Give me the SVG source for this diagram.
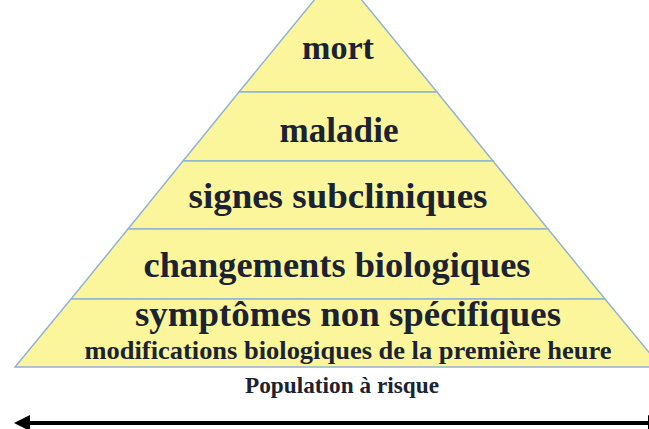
<svg xmlns="http://www.w3.org/2000/svg" width="649" height="429" viewBox="0 0 649 429">
<style>
.band{fill:#FBF69C;stroke:#93B3D6;stroke-width:1.5;}
.t{font-family:"Liberation Serif","Times New Roman",Tinos,serif;font-weight:bold;fill:#1B2333;text-anchor:middle;}
</style>
<defs>
<marker id="ah" markerWidth="4" markerHeight="4" refX="1" refY="2" orient="auto-start-reverse" markerUnits="strokeWidth">
<path d="M0,0 L4,2 L0,4 Z" fill="#000"/>
</marker>
</defs>
<rect width="649" height="429" fill="#fff"/>
<g id="pyramid">
<g id="n-mort"><polygon class="band" points="338,-29 437,92 239,92"/><text class="t" x="338" y="59" font-size="34" textLength="72" lengthAdjust="spacingAndGlyphs">mort</text></g>
<g id="n-maladie"><polygon class="band" points="239,92 437,92 493,161 183,161"/><text class="t" x="339" y="142" font-size="35" textLength="119" lengthAdjust="spacingAndGlyphs">maladie</text></g>
<g id="n-signes"><polygon class="band" points="183,161 493,161 548,229 128,229"/><text class="t" x="338" y="208" font-size="36" textLength="299" lengthAdjust="spacingAndGlyphs">signes subcliniques</text></g>
<g id="n-changements"><polygon class="band" points="128,229 548,229 605,299 71,299"/><text class="t" x="337" y="277" font-size="36" textLength="387" lengthAdjust="spacingAndGlyphs">changements  biologiques</text></g>
<g id="n-symptomes"><polygon class="band" points="71,299 605,299 661,367 15,367"/><text class="t" x="348" y="326" font-size="36" textLength="426" lengthAdjust="spacingAndGlyphs">symptômes  non spécifiques</text><text class="t" x="348" y="359" font-size="26" textLength="527" lengthAdjust="spacingAndGlyphs">modifications biologiques de la première heure</text></g>
</g>
<text class="t" x="342" y="393" font-size="23" textLength="194" lengthAdjust="spacingAndGlyphs">Population à risque</text>
<g id="connectors">
<line x1="26" y1="423" x2="652" y2="423" stroke="#000" stroke-width="4" marker-start="url(#ah)" marker-end="url(#ah)"/>
</g>
</svg>
